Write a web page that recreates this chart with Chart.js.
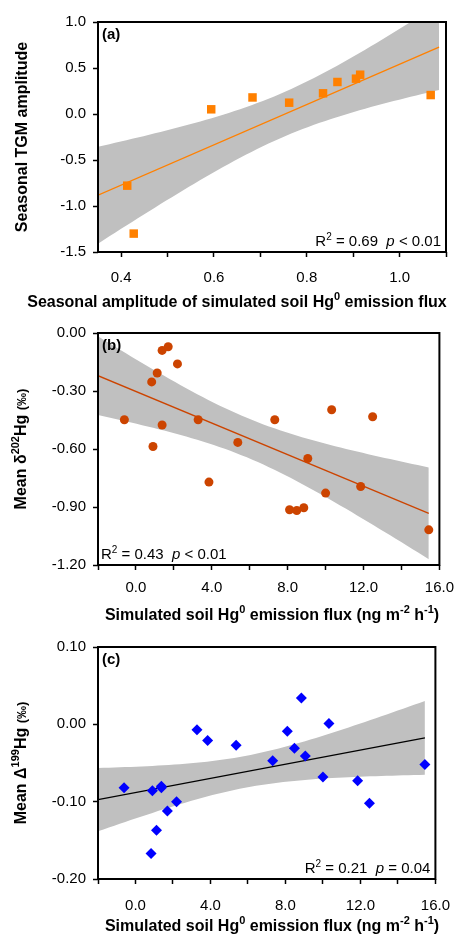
<!DOCTYPE html>
<html>
<head>
<meta charset="utf-8">
<script src="https://cdn.jsdelivr.net/npm/chart.js@4.4.0/dist/chart.umd.min.js"></script>
<style>
  html, body { margin: 0; padding: 0; background: #fff; }
  #wrap { position: relative; width: 463px; height: 935px; }
  canvas { position: absolute; left: 0; }
</style>
</head>
<body>
<div id="wrap">
  <canvas id="chartA" width="463" height="315" style="top:0px"></canvas>
  <canvas id="chartB" width="463" height="315" style="top:315px"></canvas>
  <canvas id="chartC" width="463" height="305" style="top:630px"></canvas>
</div>
<script>
"use strict";

// ----------------------------
// Data
// ----------------------------
// (a) seasonal amplitude of simulated flux vs seasonal TGM amplitude
const ampFlux = [0.413, 0.427, 0.594, 0.683, 0.762, 0.835, 0.866, 0.906, 0.915, 1.067];
const ampTGM  = [-0.779, -1.30, 0.051, 0.180, 0.123, 0.225, 0.348, 0.384, 0.427, 0.206];

// (b), (c) simulated soil Hg0 flux per site
const siteFlux = [-0.61, 0.83, 0.90, 1.12, 1.38, 1.38, 1.70, 2.19, 3.28, 3.85, 5.37,
                  7.32, 8.10, 8.48, 8.85, 9.06, 10.00, 10.32, 11.85, 12.48, 15.44];
const meanD202 = [-0.449, -0.253, -0.587, -0.207, -0.090, -0.476, -0.071, -0.160, -0.449, -0.771, -0.566,
                  -0.449, -0.914, -0.918, -0.904, -0.649, -0.828, -0.397, -0.794, -0.433, -1.018];
const meanD199 = [-0.082, -0.167, -0.086, -0.137, -0.080, -0.082, -0.112, -0.100, -0.007, -0.021, -0.027,
                  -0.047, -0.009, -0.031, 0.034, -0.041, -0.068, 0.001, -0.073, -0.102, -0.052];

// ticks
const aXTicks  = [0.4, 0.5, 0.6, 0.7, 0.8, 0.9, 1.0, 1.1];
const aXLabels = ["0.4", "", "0.6", "", "0.8", "", "1.0", ""];
const aYTicks  = [-1.5, -1.0, -0.5, 0.0, 0.5, 1.0];
const aYLabels = ["-1.5", "-1.0", "-0.5", "0.0", "0.5", "1.0"];

const fluxTicks  = [-2, 0, 2, 4, 6, 8, 10, 12, 14, 16];
const fluxLabels = ["", "0.0", "", "4.0", "", "8.0", "", "12.0", "", "16.0"];
const bYTicks  = [-1.2, -0.9, -0.6, -0.3, 0.0];
const bYLabels = ["-1.20", "-0.90", "-0.60", "-0.30", "0.00"];
const cYTicks  = [-0.2, -0.1, 0.0, 0.1];
const cYLabels = ["-0.20", "-0.10", "0.00", "0.10"];

const FONT = "'Liberation Sans', Arial, sans-serif";
Chart.defaults.font.family = FONT;
Chart.defaults.color = "#000";

// ----------------------------
// Regression + 95% confidence band
// ----------------------------
const T975 = { 8: 2.306, 19: 2.093 };

function fitStats(xs, ys) {
  const n = xs.length;
  const mx = xs.reduce((a, b) => a + b, 0) / n;
  const my = ys.reduce((a, b) => a + b, 0) / n;
  let sxx = 0, sxy = 0, syy = 0;
  xs.forEach((x, i) => {
    sxx += (x - mx) ** 2;
    sxy += (x - mx) * (ys[i] - my);
    syy += (ys[i] - my) ** 2;
  });
  const slope = sxy / sxx;
  const icpt = my - slope * mx;
  const s = Math.sqrt((syy - slope * sxy) / (n - 2));
  return { n, mx, sxx, slope, icpt, s };
}

function fitCurves(xs, ys, x0, x1) {
  const f = fitStats(xs, ys);
  const t = T975[f.n - 2];
  const upper = [], lower = [];
  const steps = 60;
  for (let i = 0; i <= steps; i++) {
    const x = x0 + (x1 - x0) * i / steps;
    const yhat = f.icpt + f.slope * x;
    const se = f.s * Math.sqrt(1 / f.n + (x - f.mx) ** 2 / f.sxx);
    upper.push({ x, y: yhat + t * se });
    lower.push({ x, y: yhat - t * se });
  }
  const line = [{ x: x0, y: f.icpt + f.slope * x0 }, { x: x1, y: f.icpt + f.slope * x1 }];
  return { line, upper, lower };
}

// ----------------------------
// Rich text (superscripts) helper
// ----------------------------
function segFont(s, base) {
  const size = s.sup ? Math.round((s.size || base.size) * 0.66) : (s.size || base.size);
  const weight = (s.bold !== undefined ? s.bold : base.bold) ? "bold" : "normal";
  const style = s.italic ? "italic" : "normal";
  return `${style} ${weight} ${size}px ${FONT}`;
}

function drawRich(ctx, segs, x, y, align, base) {
  let w = 0;
  segs.forEach(s => { ctx.font = segFont(s, base); w += ctx.measureText(s.t).width; });
  let cx = align === "center" ? x - w / 2 : align === "right" ? x - w : x;
  ctx.textAlign = "left";
  ctx.textBaseline = "alphabetic";
  ctx.fillStyle = "#000";
  segs.forEach(s => {
    ctx.font = segFont(s, base);
    const rise = s.sup ? base.size * 0.42 : 0;
    ctx.fillText(s.t, cx, y - rise);
    cx += ctx.measureText(s.t).width;
  });
}

const framePlugin = {
  id: "frame",
  afterDraw(chart, args, opts) {
    const { ctx, chartArea: a } = chart;
    ctx.save();
    ctx.strokeStyle = "#000";
    ctx.lineWidth = 2;
    ctx.strokeRect(a.left, a.top, a.right - a.left, a.bottom - a.top);

    // axis titles
    drawRich(ctx, opts.xTitle, opts.xTitleX, opts.xTitleY, "center", { size: 16, bold: true });
    ctx.save();
    ctx.translate(opts.yTitleX, (a.top + a.bottom) / 2);
    ctx.rotate(-Math.PI / 2);
    drawRich(ctx, opts.yTitle, 0, 0, "center", { size: 16, bold: true });
    ctx.restore();

    // panel letter and stats
    drawRich(ctx, [{ t: opts.letter }], a.left + 4, a.top + 17, "left", { size: 15, bold: true });
    const sx = opts.statAlign === "right" ? a.right - 5 : a.left + 3;
    drawRich(ctx, opts.stat, sx, a.bottom - 6, opts.statAlign, { size: 15, bold: false });
    ctx.restore();
  }
};

// ----------------------------
// Build one panel
// ----------------------------
function makePanel(id, p) {
  const curves = fitCurves(p.xs, p.ys, p.fitFrom, p.fitTo);
  const points = p.xs.map((x, i) => ({ x, y: p.ys[i] }));

  return new Chart(document.getElementById(id), {
    type: "scatter",
    data: {
      datasets: [
        { data: points, pointStyle: p.marker, pointRadius: p.radius, backgroundColor: p.color,
          borderColor: p.color, borderWidth: 0, order: 0 },
        { data: curves.line, showLine: true, pointRadius: 0, borderColor: p.lineColor,
          borderWidth: 1.3, fill: false, order: 1 },
        { data: curves.upper, showLine: true, pointRadius: 0, borderColor: "rgba(0,0,0,0)",
          fill: false, order: 2 },
        { data: curves.lower, showLine: true, pointRadius: 0, borderColor: "rgba(0,0,0,0)",
          backgroundColor: "#c0c0c0", fill: "-1", order: 3 }
      ]
    },
    options: {
      responsive: false,
      animation: false,
      devicePixelRatio: 1,
      events: [],
      layout: { padding: { top: p.top, right: 17, bottom: 0, left: 0 } },
      plugins: {
        legend: { display: false },
        tooltip: { enabled: false },
        frame: p.frame
      },
      scales: {
        x: {
          type: "linear", min: p.xMin, max: p.xMax,
          afterBuildTicks: s => { s.ticks = p.xTicks.map(v => ({ value: v })); },
          afterFit: s => { s.height = p.xAxisH; },
          grid: { display: true, drawOnChartArea: false, drawTicks: true, tickLength: 5,
                  tickWidth: 1.5, tickColor: "#000" },
          border: { display: false },
          ticks: { autoSkip: false, maxRotation: 0, padding: p.xPad, font: { size: 15 },
                   callback: (v, i) => p.xLabels[i] }
        },
        y: {
          type: "linear", min: p.yMin, max: p.yMax,
          afterBuildTicks: s => { s.ticks = p.yTicks.map(v => ({ value: v })); },
          afterFit: s => { s.width = 98; },
          grid: { display: true, drawOnChartArea: false, drawTicks: true, tickLength: 5,
                  tickWidth: 1.5, tickColor: "#000" },
          border: { display: false },
          ticks: { autoSkip: false, padding: 7, font: { size: 15 },
                   callback: (v, i) => p.yLabels[i] }
        }
      }
    },
    plugins: [framePlugin]
  });
}

const fluxTitle = [
  { t: "Simulated soil Hg" }, { t: "0", sup: true }, { t: " emission flux (ng m" },
  { t: "-2", sup: true }, { t: " h" }, { t: "-1", sup: true }, { t: ")" }
];

makePanel("chartA", {
  xs: ampFlux, ys: ampTGM, fitFrom: 0.35, fitTo: 1.085,
  marker: "rect", radius: 6, color: "#ff8000", lineColor: "#ff8000",
  top: 22, xAxisH: 63, xPad: 12,
  xMin: 0.35, xMax: 1.1, xTicks: aXTicks, xLabels: aXLabels,
  yMin: -1.5, yMax: 1.0, yTicks: aYTicks, yLabels: aYLabels,
  frame: {
    xTitle: [{ t: "Seasonal amplitude of simulated soil Hg" }, { t: "0", sup: true }, { t: " emission flux" }],
    xTitleX: 237, xTitleY: 307,
    yTitle: [{ t: "Seasonal TGM amplitude" }], yTitleX: 27,
    letter: "(a)",
    stat: [{ t: "R" }, { t: "2", sup: true }, { t: " = 0.69  " }, { t: "p", italic: true }, { t: " < 0.01" }],
    statAlign: "right"
  }
});

makePanel("chartB", {
  xs: siteFlux, ys: meanD202, fitFrom: -2, fitTo: 15.44,
  marker: "circle", radius: 4.5, color: "#cc4400", lineColor: "#cc4400",
  top: 18, xAxisH: 65, xPad: 9,
  xMin: -2, xMax: 16, xTicks: fluxTicks, xLabels: fluxLabels,
  yMin: -1.2, yMax: 0, yTicks: bYTicks, yLabels: bYLabels,
  frame: {
    xTitle: fluxTitle, xTitleX: 272, xTitleY: 305,
    yTitle: [{ t: "Mean \u03b4" }, { t: "202", sup: true }, { t: "Hg " }, { t: "(\u2030)", size: 13 }], yTitleX: 26,
    letter: "(b)",
    stat: [{ t: "R" }, { t: "2", sup: true }, { t: " = 0.43  " }, { t: "p", italic: true }, { t: " < 0.01" }],
    statAlign: "left"
  }
});

makePanel("chartC", {
  xs: siteFlux, ys: meanD199, fitFrom: -2, fitTo: 15.44,
  marker: "rectRot", radius: 5.5, color: "#0000ff", lineColor: "#000000",
  top: 17, xAxisH: 56, xPad: 13,
  xMin: -2, xMax: 16, xTicks: fluxTicks, xLabels: fluxLabels,
  yMin: -0.2, yMax: 0.1, yTicks: cYTicks, yLabels: cYLabels,
  frame: {
    xTitle: fluxTitle, xTitleX: 272, xTitleY: 301,
    yTitle: [{ t: "Mean \u0394" }, { t: "199", sup: true }, { t: "Hg " }, { t: "(\u2030)", size: 13 }], yTitleX: 26,
    letter: "(c)",
    stat: [{ t: "R" }, { t: "2", sup: true }, { t: " = 0.21  " }, { t: "p", italic: true }, { t: " = 0.04" }],
    statAlign: "right"
  }
});
</script>
</body>
</html>
